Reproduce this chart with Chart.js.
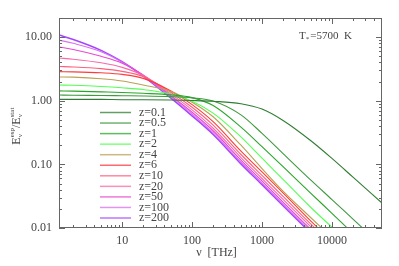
<!DOCTYPE html>
<html lang="en">
<head>
<meta charset="UTF-8">
<title>Expanding vs static spectrum ratio</title>
<style>
  body { margin: 0; background: #fff; }
  canvas { display: block; }
</style>
<script src="https://cdn.jsdelivr.net/npm/chart.js"></script>
</head>
<body>
<canvas id="chart" width="399" height="266"></canvas>
<script>
// frequency grid (THz)
const nu = [1.25, 2, 5, 10, 20, 50, 100, 200, 500, 1000, 2000, 5000, 10000, 20000, 52000];

// E_nu^esp / E_nu^stat, one array per redshift
const zLabels = ['z=0.1', 'z=0.5', 'z=1', 'z=2', 'z=4', 'z=6', 'z=10', 'z=20', 'z=50', 'z=100', 'z=200'];
const ratioZ0_1 = [1.05, 1.05, 1.05, 1.04, 1.04, 1.03, 1.01, 0.98, 0.90, 0.74, 0.49, 0.235, 0.124, 0.063, 0.0247];
const ratioZ0_5 = [1.23, 1.22, 1.21, 1.20, 1.19, 1.16, 1.11, 0.99, 0.60, 0.307, 0.148, 0.0565, 0.028, 0.0138, 0.0052];
const ratioZ1   = [1.43, 1.42, 1.38, 1.35, 1.31, 1.24, 1.12, 0.84, 0.385, 0.19, 0.092, 0.0351, 0.017, 0.0082, 0.003];
const ratioZ2   = [1.77, 1.75, 1.68, 1.60, 1.50, 1.27, 0.98, 0.64, 0.27, 0.125, 0.058, 0.021, 0.0103, 0.0051, 0.00195];
const ratioZ4   = [2.37, 2.35, 2.22, 2.05, 1.77, 1.40, 0.95, 0.56, 0.20, 0.086, 0.038, 0.0145, 0.0071, 0.0035, 0.00133];
const ratioZ6   = [2.87, 2.85, 2.75, 2.60, 2.25, 1.42, 0.87, 0.47, 0.162, 0.076, 0.0356, 0.0128, 0.0062, 0.003, 0.00113];
const ratioZ10  = [3.45, 3.40, 3.20, 2.90, 2.40, 1.35, 0.79, 0.414, 0.143, 0.067, 0.0314, 0.0115, 0.0056, 0.0027, 0.001];
const ratioZ20  = [4.70, 4.50, 3.95, 3.35, 2.50, 1.27, 0.72, 0.37, 0.128, 0.060, 0.0281, 0.0104, 0.005, 0.0024, 0.0009];
const ratioZ50  = [7.0, 6.4, 5.0, 3.9, 2.55, 1.20, 0.66, 0.338, 0.117, 0.055, 0.0256, 0.0095, 0.0046, 0.0022, 0.00081];
const ratioZ100 = [9.0, 8.0, 5.9, 4.05, 2.50, 1.15, 0.62, 0.315, 0.109, 0.0514, 0.024, 0.0089, 0.0043, 0.002, 0.00076];
const ratioZ200 = [10.8, 9.2, 6.2, 4.1, 2.45, 1.10, 0.58, 0.295, 0.102, 0.048, 0.0224, 0.0083, 0.004, 0.0019, 0.00071];

const yTicks = [0.01, 0.1, 1, 10];
const xTicks = [10, 100, 1000, 10000];

const series = [ratioZ0_1, ratioZ0_5, ratioZ1, ratioZ2, ratioZ4, ratioZ6, ratioZ10, ratioZ20, ratioZ50, ratioZ100, ratioZ200];
const colors = ['#2f7d32', '#3f9a3f', '#2aa52a', '#55ff55', '#bba055', '#ff3a3a', '#ff5f7f', '#f86aa8', '#ea48d0', '#d870f0', '#a545ff'];

const datasets = series.map((vals, i) => ({
    label: zLabels[i],
    data: nu.map((x, j) => ({ x: x, y: vals[j] })),
    borderColor: colors[i],
    borderWidth: i === series.length - 1 ? 1.6 : 1.1,
    pointRadius: 0,
    cubicInterpolationMode: 'monotone',
    fill: false
}));

const serif = '"Liberation Serif", "DejaVu Serif", serif';
const axisColor = '#666';

// frame, inward ticks on all sides, titles, annotation and legend
const decor = {
    id: 'decor',
    afterDraw(chart) {
        const ctx = chart.ctx;
        const a = chart.chartArea;
        const xs = chart.scales.x, ys = chart.scales.y;
        ctx.save();
        ctx.strokeStyle = axisColor;
        ctx.lineWidth = 1;
        ctx.strokeRect(a.left + 0.5, a.top + 0.5, a.right - a.left - 1, a.bottom - a.top - 1);

        ctx.beginPath();
        for (let e = 0; e <= 5; e++) {
            for (let m = 1; m < 10; m++) {
                const v = m * Math.pow(10, e);
                if (v < xs.min || v > xs.max) continue;
                const px = Math.round(xs.getPixelForValue(v)) + 0.5;
                const len = m === 1 ? 6 : 3;
                ctx.moveTo(px, a.bottom); ctx.lineTo(px, a.bottom - len);
                ctx.moveTo(px, a.top); ctx.lineTo(px, a.top + len);
            }
        }
        for (let e = -2; e <= 1; e++) {
            for (let m = 1; m < 10; m++) {
                const v = m * Math.pow(10, e);
                if (v < ys.min || v > ys.max) continue;
                const py = Math.round(ys.getPixelForValue(v)) + 0.5;
                const len = m === 1 ? 6 : 3;
                ctx.moveTo(a.left, py); ctx.lineTo(a.left + len, py);
                ctx.moveTo(a.right, py); ctx.lineTo(a.right - len, py);
            }
        }
        ctx.stroke();

        // x title
        ctx.fillStyle = '#444';
        ctx.textBaseline = 'middle';
        ctx.textAlign = 'center';
        ctx.font = '12px ' + serif;
        ctx.fillText('\u03bd  [THz]', (a.left + a.right) / 2 - 4, 253);

        // y title, rotated
        ctx.save();
        ctx.translate(17, (a.top + a.bottom) / 2);
        ctx.rotate(-Math.PI / 2);
        const parts = [
            ['E', 12, 0], ['\u03bd', 7, 3], ['esp', 7, -5], ['/E', 12, 0], ['\u03bd', 7, 3], ['stat', 7, -5]
        ];
        let w = 0;
        parts.forEach(p => { ctx.font = p[1] + 'px ' + serif; w += ctx.measureText(p[0]).width; });
        let cx = -w / 2;
        ctx.textAlign = 'left';
        let lastSub = 0;
        parts.forEach(p => {
            ctx.font = p[1] + 'px ' + serif;
            // superscript sits above the preceding subscript
            let x0 = cx;
            if (p[0] === 'esp' || p[0] === 'stat') { x0 = cx - lastSub; }
            ctx.fillText(p[0], x0, p[2]);
            const tw = ctx.measureText(p[0]).width;
            if (p[0] === '\u03bd') { lastSub = tw; cx += tw; }
            else if (p[0] === 'esp' || p[0] === 'stat') { cx = x0 + tw; }
            else { cx += tw; }
        });
        ctx.restore();

        // annotation
        ctx.textAlign = 'left';
        ctx.font = '11px ' + serif;
        let tx = 299;
        ctx.fillText('T', tx, 36);
        tx += ctx.measureText('T').width;
        ctx.font = '7px ' + serif;
        ctx.fillText('*', tx, 39);
        tx += ctx.measureText('*').width + 1;
        ctx.font = '11px ' + serif;
        ctx.fillText('=5700  K', tx, 36);

        // legend
        const y0 = 112.5, dy = 10.55;
        chart.data.datasets.forEach((ds, i) => {
            const yy = y0 + i * dy;
            ctx.strokeStyle = ds.borderColor;
            ctx.globalAlpha = 0.75;
            ctx.lineWidth = 1.5;
            ctx.beginPath();
            ctx.moveTo(100, yy); ctx.lineTo(131, yy);
            ctx.stroke();
            ctx.globalAlpha = 1;
            ctx.fillStyle = '#444';
            ctx.font = '12px ' + serif;
            ctx.fillText(ds.label, 139, yy);
        });
        ctx.restore();
    }
};

new Chart(document.getElementById('chart'), {
    type: 'line',
    data: { datasets: datasets },
    options: {
        responsive: false,
        devicePixelRatio: 1,
        animation: false,
        layout: { padding: { top: 18, right: 17, left: 0, bottom: 0 } },
        plugins: { legend: { display: false }, tooltip: { enabled: false } },
        scales: {
            x: {
                type: 'logarithmic',
                min: 1.25,
                max: 52000,
                grid: { display: false, drawTicks: false },
                border: { display: false },
                afterBuildTicks: s => { s.ticks = xTicks.map(v => ({ value: v })); },
                afterFit: s => { s.height = 38; },
                ticks: {
                    padding: 6,
                    color: '#444',
                    font: { family: serif, size: 12 },
                    maxRotation: 0,
                    autoSkip: false,
                    callback: v => String(v)
                }
            },
            y: {
                type: 'logarithmic',
                min: 0.01,
                max: 20,
                grid: { display: false, drawTicks: false },
                border: { display: false },
                afterBuildTicks: s => { s.ticks = yTicks.map(v => ({ value: v })); },
                afterFit: s => { s.width = 59; },
                ticks: {
                    padding: 7,
                    color: '#444',
                    font: { family: serif, size: 12 },
                    autoSkip: false,
                    callback: v => Number(v).toFixed(2)
                }
            }
        }
    },
    plugins: [decor]
});
</script>
</body>
</html>
